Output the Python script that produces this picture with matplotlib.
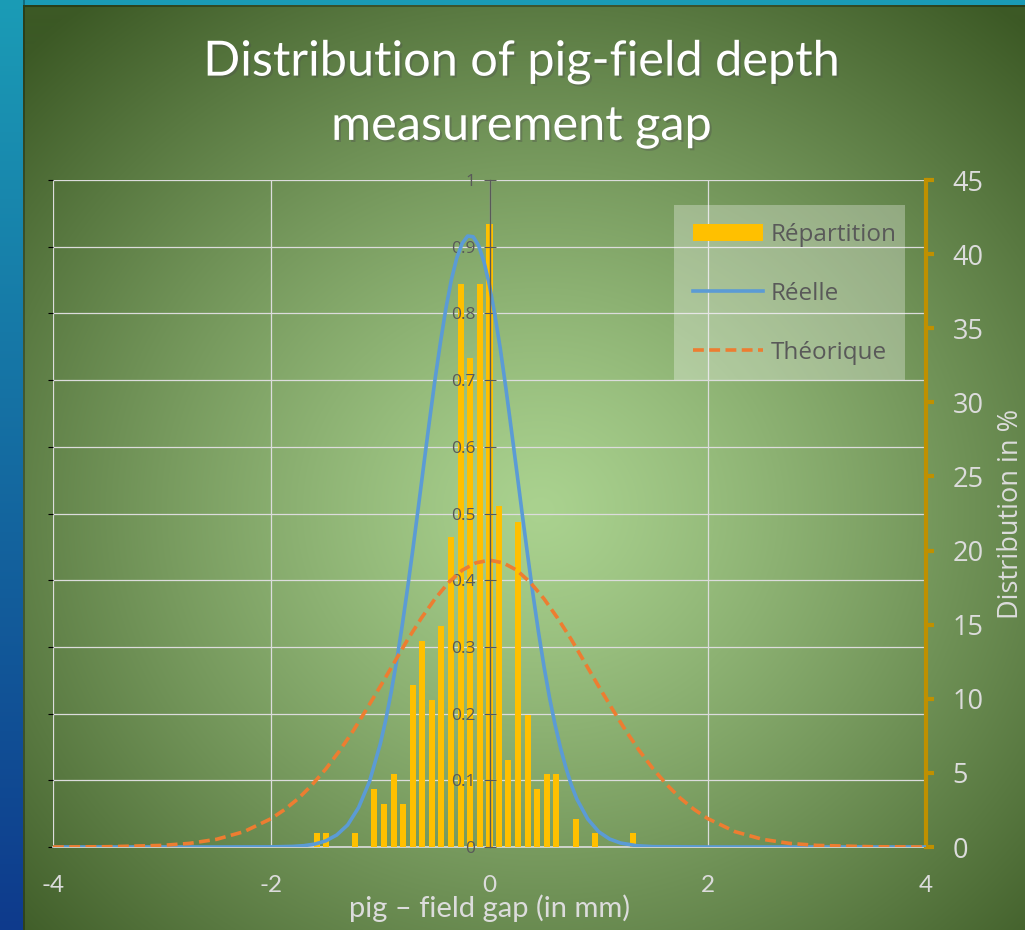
import numpy as np
import matplotlib
matplotlib.use("Agg")
import matplotlib.pyplot as plt
from matplotlib.ticker import FuncFormatter, MultipleLocator
from matplotlib.patches import Patch, Rectangle
from matplotlib.lines import Line2D
import matplotlib.patheffects as pe

plt.rcParams["font.family"] = ["Open Sans", "DejaVu Sans"]
plt.rcParams["axes.unicode_minus"] = False

# histogram bins (gap in mm) and share of measurements (%)
bin_centers = [-1.58, -1.495, -1.23, -1.055, -0.967, -0.879, -0.79, -0.70,
               -0.616, -0.527, -0.44, -0.353, -0.265, -0.177, -0.088, 0.0,
               0.086, 0.174, 0.263, 0.351, 0.437, 0.525, 0.613, 0.79, 0.965, 1.315]
repartition = [0.94, 0.94, 0.94, 3.9, 2.9, 4.9, 2.9, 10.9,
               13.9, 9.9, 14.9, 20.9, 38.0, 33.0, 38.0, 42.0,
               23.0, 5.9, 21.9, 8.9, 3.9, 4.9, 4.9, 1.9, 0.94, 0.94]

# measured density curve ("Réelle")
reelle_x = [-4.0, -3.0, -2.5, -2.0, -1.8, -1.7, -1.6, -1.5, -1.4, -1.3, -1.2, -1.1,
            -1.0, -0.95, -0.9, -0.85, -0.8, -0.75, -0.7, -0.65, -0.6, -0.55, -0.5,
            -0.45, -0.4, -0.35, -0.3, -0.25, -0.2, -0.15, -0.1, -0.05, 0.0, 0.05,
            0.1, 0.15, 0.2, 0.25, 0.3, 0.35, 0.4, 0.45, 0.5, 0.55, 0.6, 0.65, 0.7,
            0.75, 0.8, 0.9, 1.0, 1.1, 1.2, 1.35, 1.5, 2.0, 3.0, 4.0]
reelle_y = [0.0, 0.0, 0.0, 0.0002, 0.0009, 0.0020, 0.0044, 0.0092, 0.018, 0.033, 0.059, 0.098,
            0.155, 0.191, 0.233, 0.280, 0.332, 0.389, 0.449, 0.512, 0.576, 0.639, 0.700,
            0.756, 0.807, 0.850, 0.883, 0.905, 0.916, 0.915, 0.902, 0.877, 0.842, 0.797,
            0.746, 0.688, 0.626, 0.563, 0.499, 0.437, 0.377, 0.321, 0.270, 0.224, 0.184, 0.149, 0.119,
            0.093, 0.072, 0.042, 0.023, 0.012, 0.006, 0.0019, 0.0005, 0.0, 0.0, 0.0]

# theoretical density curve ("Théorique")
theo_x = [-4.0, -3.5, -3.0, -2.75, -2.5, -2.25, -2.0, -1.875, -1.75, -1.625, -1.5, -1.375,
          -1.25, -1.125, -1.0, -0.875, -0.75, -0.625, -0.5, -0.375, -0.25, -0.125,
          0.0, 0.125, 0.25, 0.375, 0.5, 0.625, 0.75, 0.875, 1.0, 1.125, 1.25, 1.375,
          1.5, 1.625, 1.75, 1.875, 2.0, 2.25, 2.5, 2.75, 3.0, 3.5, 4.0]
theo_y = [0.0, 0.0004, 0.0024, 0.0054, 0.0116, 0.0230, 0.0426, 0.0564, 0.073, 0.0934, 0.117, 0.144,
          0.174, 0.207, 0.241, 0.276, 0.311, 0.343, 0.372, 0.3965, 0.415, 0.426,
          0.430, 0.426, 0.415, 0.3965, 0.372, 0.343, 0.311, 0.276, 0.241, 0.207, 0.174, 0.144,
          0.117, 0.0934, 0.073, 0.0564, 0.0426, 0.0230, 0.0116, 0.0054, 0.0024, 0.0004, 0.0]

W, H = 1025, 930
GOLD = "#FFC000"
BLUE = "#5B9BD5"
ORANGE = "#ED7D31"
AXIS_GOLD = "#BF9000"
LIGHT = "#DCDCDC"
DARK = "#595959"

fig = plt.figure(figsize=(W / 100, H / 100), dpi=100)

# slide background: blue strip on the left, radial green panel
yy, xx = np.mgrid[0:H, 0:W]
r = np.sqrt((xx - 540) ** 2 + ((yy - 510) * 1.1) ** 2)
t = np.clip(r / 720, 0, 1) ** 1.2
inner = np.array([0xAA, 0xD2, 0x8F]) / 255
outer = np.array([0x3C, 0x59, 0x25]) / 255
img = inner[None, None, :] * (1 - t[..., None]) + outer[None, None, :] * t[..., None]
tv = (yy / H)[..., None]
blue_top = np.array([0x1B, 0x9C, 0xB6]) / 255
blue_bot = np.array([0x0E, 0x3A, 0x8C]) / 255
strip = blue_top * (1 - tv) + blue_bot * tv
mask = (xx < 23) | (yy < 6)
img = np.where(mask[..., None], strip, img)
edge = ((xx >= 23) & (xx < 25)) | ((yy >= 6) & (yy < 8) & (xx >= 23))
img[edge] = img[edge] * 0.7
bg = fig.add_axes([0, 0, 1, 1], zorder=-10)
bg.imshow(img, aspect="auto", extent=[0, 1, 0, 1], origin="upper")
bg.axis("off")

left, right, top, bottom = 53, 926, 180, 847
ax = fig.add_axes([left / W, 1 - bottom / H, (right - left) / W, (bottom - top) / H])
ax.set_facecolor("none")
ax.set_xlim(-4, 4)
ax.set_ylim(0, 1)
ax.xaxis.set_major_locator(MultipleLocator(2))
ax.yaxis.set_major_locator(MultipleLocator(0.1))
ax.grid(True, color=LIGHT, linewidth=0.9)
ax.set_axisbelow(True)
for s in ["left", "top", "right"]:
    ax.spines[s].set_visible(False)
ax.spines["bottom"].set_color(LIGHT)
ax.spines["bottom"].set_linewidth(1.2)
ax.tick_params(axis="y", left=False, labelleft=False)
ax.tick_params(axis="x", length=0, labelcolor=LIGHT, labelsize=17.5, pad=20)
for lab in ax.get_xticklabels():
    lab.set_family("Lato")
ax.set_xlabel("pig – field gap (in mm)", color=LIGHT, fontsize=21, family="Lato",
              labelpad=-1)

# bars on the secondary (percent) axis
ax2 = ax.twinx()
ax2.set_ylim(0, 45)
ax2.yaxis.set_major_locator(MultipleLocator(5))
ax2.bar(bin_centers, repartition, width=0.055, color=GOLD, zorder=2)
for s in ["left", "top", "bottom"]:
    ax2.spines[s].set_visible(False)
ax2.spines["right"].set_color(AXIS_GOLD)
ax2.spines["right"].set_linewidth(3)
ax2.tick_params(axis="y", direction="out", length=6, width=3, color=AXIS_GOLD,
                labelcolor=LIGHT, labelsize=19.5, pad=13)
ax2.set_ylabel("Distribution in %", color=LIGHT, fontsize=19.5, labelpad=10)

# curves and primary y axis (crossing at x = 0) on top
ax3 = ax.twinx()
ax3.set_ylim(0, 1)
ax3.yaxis.tick_left()
ax3.yaxis.set_major_locator(MultipleLocator(0.1))
ax3.yaxis.set_major_formatter(FuncFormatter(lambda v, _: f"{round(v, 1):g}"))
for s in ["top", "bottom", "right"]:
    ax3.spines[s].set_visible(False)
ax3.spines["left"].set_position(("data", 0))
ax3.spines["left"].set_color(DARK)
ax3.spines["left"].set_linewidth(1)
ax3.tick_params(axis="y", direction="inout", length=8, color=DARK, labelcolor=DARK,
                labelsize=12.5, pad=6)
ax3.plot(reelle_x, reelle_y, color=BLUE, linewidth=2.6, solid_joinstyle="round")
ax3.plot(theo_x, theo_y, color=ORANGE, linewidth=2.6, linestyle=(0, (3, 1.5)))

# legend panel (translucent box) and entries
ax3.add_patch(Rectangle((674 / W, 1 - 380 / H), (905 - 674) / W, (380 - 205) / H,
                        transform=fig.transFigure, facecolor="white", alpha=0.3,
                        edgecolor="none", zorder=0, clip_on=False))
handles = [Patch(facecolor=GOLD, edgecolor="none"),
           Line2D([], [], color=BLUE, linewidth=2.6),
           Line2D([], [], color=ORANGE, linewidth=2.6, linestyle=(0, (3, 1.5)))]
leg = ax3.legend(handles, ["Répartition", "Réelle", "Théorique"],
                 loc="upper right", bbox_to_anchor=(915 / W, 1 - 205 / H),
                 bbox_transform=fig.transFigure, fontsize=17.5, frameon=False,
                 borderpad=0.75, borderaxespad=0, handlelength=2.9,
                 handletextpad=0.3, labelspacing=1.43)
for txt in leg.get_texts():
    txt.set_color(DARK)

fig.text(521 / W, 1 - 94 / H, "Distribution of pig-field depth\nmeasurement gap",
         ha="center", va="center", color="white", fontsize=35, family="Lato",
         linespacing=1.55,
         path_effects=[pe.withSimplePatchShadow(offset=(1.5, -1.5), alpha=0.35)])

fig.savefig("out.png", dpi=100)
